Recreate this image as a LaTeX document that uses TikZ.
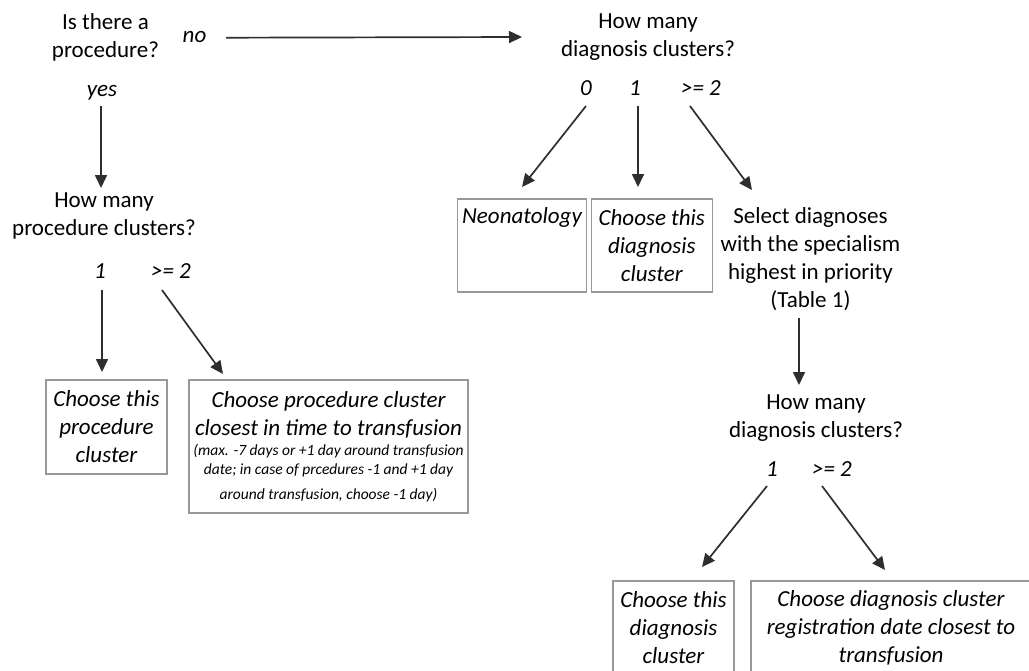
\documentclass[tikz,border=0pt]{standalone}
\usepackage{fontspec}
\setmainfont{Carlito}
\usetikzlibrary{arrows.meta}
\tikzset{
  question/.style={align=center, inner sep=0pt, font=\fontsize{23}{28}\selectfont},
  branch/.style={inner sep=0pt, font=\fontsize{23}{28}\selectfont\itshape,
    text height=15pt, text depth=5pt},
  result/.style={draw=black!40, line width=1.1pt, align=center, inner sep=0pt,
    font=\fontsize{23}{28}\selectfont\itshape},
  flow/.style={draw=black!82, line width=1.7pt, -{Triangle[length=13pt,width=12pt]}},
}
\newcommand{\smallnote}{\fontsize{15.5}{19}\selectfont}
\begin{document}
\begin{tikzpicture}[x=1pt,y=-1pt]
\useasboundingbox (0,0) rectangle (1029,670);
\clip (0,0) rectangle (1029,670);

% procedure branch
\node[question] (q1) at (105.5,37) {Is there a\\procedure?};
\node[branch] (no) at (194.5,37.7) {no};
\node[branch] (yes) at (102,91.7) {yes};
\node[question] (q2) at (104,216) {How many\\procedure clusters?};
\node[branch] (p1) at (100,273) {1};
\node[branch] (p2) at (171,273) {>= 2};
\node[result, minimum width=121pt, minimum height=94pt] (pc1) at (106.5,427)
  {Choose this\\procedure\\cluster};
\node[result, minimum width=279pt, minimum height=133pt] (pc2) at (328.5,446.5)
  {Choose procedure cluster\\closest in time to transfusion\\[-7.8pt]
   {\smallnote (max. -7 days or +1 day around transfusion}\\[-9pt]
   {\smallnote date; in case of prcedures -1 and +1 day}\\[-3pt]
   {\smallnote around transfusion, choose -1 day)}};

% diagnosis branch
\node[question] (dq1) at (648,37) {How many\\diagnosis clusters?};
\node[branch] (d0) at (586,90) {0};
\node[branch] (d1) at (635,90) {1};
\node[branch] (d2) at (701,90) {>= 2};
\node[result, minimum width=129.5pt, text height=24pt, text depth=69pt] (neo) at (522,245.5)
  {Neonatology};
\node[result, minimum width=121pt, minimum height=93pt] (dc1) at (651.8,245.5)
  {Choose this\\diagnosis\\cluster};
\node[question] (sel) at (810.5,259.5)
  {Select diagnoses\\with the specialism\\highest in priority\\(Table 1)};
\node[question] (dq2) at (816,418) {How many\\diagnosis clusters?};
\node[branch] (e1) at (772,471.7) {1};
\node[branch] (e2) at (832,471.7) {>= 2};
\node[result, minimum width=121pt, minimum height=93pt] (dc2) at (673.5,627.5)
  {Choose this\\diagnosis\\cluster};
\node[result, minimum width=280pt, minimum height=93pt] (dc3) at (891,627.5)
  {Choose diagnosis cluster\\registration date closest to\\transfusion};

% connectors
\draw[flow] ([xshift=31.5pt]no.center) -- ([xshift=-126pt]dq1.center);
\draw[flow] ([xshift=-1pt,yshift=-14.3pt]yes.center) -- ([xshift=-3pt,yshift=28pt]q2.center);
\draw[flow] ([xshift=2pt,yshift=-17pt]p1.center) -- ([xshift=-4.5pt,yshift=55pt]pc1.center);
\draw[flow] ([xshift=-9pt,yshift=-17pt]p2.center) -- ([xshift=-105.5pt,yshift=72.5pt]pc2.center);
\draw[flow] ([yshift=-16pt]d0.center) -- ([yshift=58.5pt]neo.center);
\draw[flow] ([xshift=3pt,yshift=-16pt]d1.center) -- ([xshift=-13.8pt,yshift=58.5pt]dc1.center);
\draw[flow] ([xshift=-11pt,yshift=-16pt]d2.center) -- ([xshift=-58.5pt,yshift=69.5pt]sel.center);
\draw[flow] ([xshift=-11.5pt,yshift=-58.5pt]sel.center) -- ([xshift=-17pt,yshift=33pt]dq2.center);
\draw[flow] ([xshift=-5pt,yshift=-14.3pt]e1.center) -- ([xshift=28.5pt,yshift=60.5pt]dc2.center);
\draw[flow] ([xshift=-10pt,yshift=-14.3pt]e2.center) -- ([xshift=-6pt,yshift=57.5pt]dc3.center);
\end{tikzpicture}
\end{document}
